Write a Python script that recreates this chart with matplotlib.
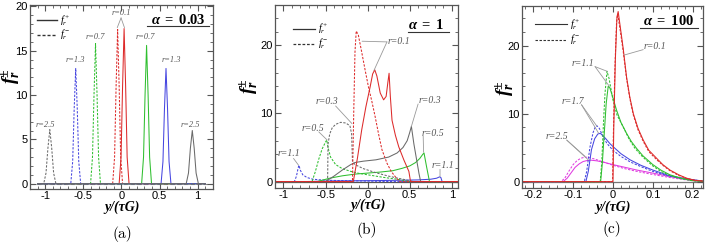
import matplotlib
matplotlib.use("Agg")
import matplotlib.pyplot as plt
from matplotlib.ticker import MultipleLocator, FormatStrFormatter

plt.rcParams['font.family'] = ['Liberation Sans', 'DejaVu Sans']
plt.rcParams['axes.unicode_minus'] = False
plt.rcParams['mathtext.fontset'] = 'custom'
plt.rcParams['mathtext.rm'] = 'Liberation Serif'
plt.rcParams['mathtext.it'] = 'Liberation Serif:italic'
plt.rcParams['mathtext.bf'] = 'Liberation Serif:bold'
plt.rcParams['mathtext.bfit'] = 'Liberation Serif:italic:bold'

RED, GREEN, BLUE, GRAY, MAG = '#dd2a2a', '#2fbf2f', '#4646e0', '#6a6a6a', '#e03ce0'
FRAME = '#555555'

# ---------------- panel (a), alpha = 0.03 ----------------
a_r01_p_x = [-1.1, -0.03, -0.005, 0.015, 0.035, 0.055, 0.075, 0.1, 1.1]
a_r01_p_y = [0, 0, 3, 11, 17.5, 11, 3, 0, 0]
a_r01_m_x = [-1.1, -0.115, -0.09, -0.07, -0.05, -0.03, -0.01, 0.015, 1.1]
a_r01_m_y = [0, 0, 3, 11, 17.4, 11, 3, 0, 0]
a_r07_p_x = [-1.1, 0.265, 0.29, 0.31, 0.33, 0.35, 0.37, 0.395, 1.1]
a_r07_p_y = [0, 0, 3, 10, 15.6, 10, 3, 0, 0]
a_r07_m_x = [-1.1, -0.405, -0.38, -0.36, -0.34, -0.32, -0.3, -0.275, 1.1]
a_r07_m_y = [0, 0, 3, 10, 15.8, 10, 3, 0, 0]
a_r13_p_x = [-1.1, 0.52, 0.545, 0.565, 0.585, 0.605, 0.625, 0.65, 1.1]
a_r13_p_y = [0, 0, 2.5, 8.5, 13.0, 8.5, 2.5, 0, 0]
a_r13_m_x = [-1.1, -0.665, -0.64, -0.62, -0.6, -0.58, -0.56, -0.535, 1.1]
a_r13_m_y = [0, 0, 2.5, 8.5, 13.0, 8.5, 2.5, 0, 0]
a_r25_p_x = [-1.1, 0.85, 0.88, 0.905, 0.93, 0.955, 0.98, 1.01, 1.1]
a_r25_p_y = [0, 0, 1.2, 4.0, 6.0, 4.0, 1.2, 0, 0]
a_r25_m_x = [-1.1, -1.02, -0.99, -0.965, -0.94, -0.915, -0.89, -0.86, 1.1]
a_r25_m_y = [0, 0, 1.2, 4.0, 6.1, 4.0, 1.2, 0, 0]

# ---------------- panel (b), alpha = 1 ----------------
b_r01_p_x = [-1.1, -0.17, -0.12, -0.07, -0.02, 0.03, 0.06, 0.085, 0.11, 0.15, 0.19,
             0.22, 0.24, 0.255, 0.27, 0.29, 0.33, 0.37, 0.43, 0.49, 0.51, 1.1]
b_r01_p_y = [0, 0, 3.5, 7.6, 11, 13.9, 15.8, 16.4, 15.5, 13, 12,
             12.5, 14.5, 15.9, 12.5, 9, 6.8, 5.1, 3.2, 1.5, 0, 0]
b_r01_m_x = [-1.1, -0.18, -0.165, -0.15, -0.135, -0.11, -0.07, -0.03, 0.01, 0.05, 0.09,
             0.13, 0.17, 0.23, 0.28, 0.33, 0.38, 1.1]
b_r01_m_y = [0, 0, 10, 19, 22.1, 21.5, 19, 16.4, 13.9, 11.8, 9.5,
             7, 4.7, 2.7, 1.5, 0.7, 0, 0]
b_r03_p_x = [-1.1, -0.5, -0.4, -0.3, -0.2, -0.15, -0.05, 0.1, 0.25, 0.35, 0.42,
             0.47, 0.5, 0.52, 0.55, 0.585, 0.61, 0.63, 1.1]
b_r03_p_y = [0, 0, 0.8, 1.7, 2.5, 2.8, 3.0, 3.2, 3.6, 4.2, 5.0,
             6.0, 7.2, 8.1, 5.5, 3.0, 1.2, 0, 0]
b_r03_m_x = [-1.1, -0.475, -0.47, -0.45, -0.42, -0.38, -0.32, -0.26, -0.21, -0.19,
             -0.18, -0.15, -0.05, 0.1, 0.25, 0.4, 0.55, 1.1]
b_r03_m_y = [0, 0, 5.5, 7.0, 7.9, 8.4, 8.7, 8.6, 8.2, 7.0,
             3.0, 2.5, 1.9, 1.3, 0.8, 0.4, 0, 0]
b_r05_p_x = [-1.1, -0.6, -0.45, -0.3, -0.15, 0.0, 0.15, 0.3, 0.41, 0.5, 0.57,
             0.62, 0.655, 0.67, 0.7, 0.735, 1.1]
b_r05_p_y = [0, 0, 0.5, 0.85, 1.1, 1.25, 1.4, 1.6, 1.95, 2.3, 2.8,
             3.4, 4.0, 4.2, 2.2, 0, 0]
b_r05_m_x = [-1.1, -0.66, -0.62, -0.58, -0.54, -0.5, -0.485, -0.47, -0.44, -0.38,
             -0.3, -0.2, -0.1, 0.05, 0.2, 0.35, 0.5, 1.1]
b_r05_m_y = [0, 0, 1.5, 3.3, 4.8, 5.8, 6.1, 5.0, 3.6, 2.5,
             1.9, 1.5, 1.2, 0.9, 0.6, 0.35, 0, 0]
b_r11_p_x = [-1.1, -0.75, -0.5, -0.2, 0.1, 0.4, 0.6, 0.75, 0.82, 0.855, 0.87, 0.885, 1.1]
b_r11_p_y = [0, 0, 0.08, 0.12, 0.15, 0.2, 0.25, 0.35, 0.5, 0.7, 0.6, 0, 0]
b_r11_m_x = [-1.1, -0.87, -0.845, -0.825, -0.815, -0.8, -0.77, -0.72, -0.65, -0.5,
             -0.3, -0.1, 0.1, 0.3, 1.1]
b_r11_m_y = [0, 0, 0.8, 2.0, 2.4, 1.7, 1.0, 0.6, 0.35, 0.2,
             0.15, 0.1, 0.05, 0, 0]

# ---------------- panel (c), alpha = 100 ----------------
c_r01_p_x = [-0.23, 0.0, 0.002, 0.006, 0.01, 0.013, 0.02, 0.026, 0.034, 0.042, 0.051,
             0.063, 0.076, 0.09, 0.11, 0.125, 0.143, 0.165, 0.185, 0.205, 0.23]
c_r01_p_y = [0, 0, 8, 18, 24.2, 25.0, 22, 19.4, 15.4, 12.5, 10.0,
             7.8, 6.1, 4.6, 3.4, 2.5, 1.7, 1.0, 0.5, 0.2, 0.05]
c_r01_m_x = [-0.23, -0.001, 0.001, 0.005, 0.009, 0.012, 0.02, 0.026, 0.034, 0.042, 0.051,
             0.063, 0.076, 0.09, 0.11, 0.125, 0.143, 0.165, 0.185, 0.205, 0.23]
c_r01_m_y = [0, 0, 7, 17, 23.5, 24.6, 21.5, 19.0, 15.2, 12.3, 9.8,
             7.6, 5.9, 4.4, 3.2, 2.4, 1.6, 0.9, 0.45, 0.2, 0.05]
c_r11_p_x = [-0.23, -0.031, -0.027, -0.022, -0.017, -0.012, -0.008, 0.0, 0.009, 0.02,
             0.034, 0.046, 0.059, 0.075, 0.1, 0.12, 0.143, 0.17, 0.2, 0.23]
c_r11_p_y = [0, 0, 2.5, 7, 11.5, 14, 13.8, 12.3, 10.5, 8.7,
             7.1, 5.9, 4.9, 3.8, 2.5, 1.7, 1.0, 0.5, 0.15, 0.02]
c_r11_m_x = [-0.23, -0.032, -0.028, -0.024, -0.02, -0.015, -0.01, 0.0, 0.01, 0.026,
             0.04, 0.055, 0.075, 0.1, 0.12, 0.143, 0.17, 0.2, 0.23]
c_r11_m_y = [0, 0, 3, 8.5, 13, 16.2, 15.2, 12, 9.8, 8.0,
             6.3, 4.9, 3.6, 2.3, 1.5, 0.9, 0.45, 0.12, 0.02]
c_r17_p_x = [-0.23, -0.068, -0.062, -0.054, -0.046, -0.038, -0.032, -0.026, -0.018,
             -0.008, 0.001, 0.02, 0.043, 0.07, 0.1, 0.14, 0.185, 0.23]
c_r17_p_y = [0, 0, 1.5, 4.7, 6.3, 7.0, 7.1, 6.8, 6.3,
             5.6, 5.1, 4.1, 3.2, 2.4, 1.7, 0.9, 0.4, 0.05]
c_r17_m_x = [-0.23, -0.072, -0.066, -0.058, -0.05, -0.044, -0.04, -0.034, -0.025,
             -0.015, 0.0, 0.02, 0.043, 0.07, 0.1, 0.14, 0.185, 0.23]
c_r17_m_y = [0, 0, 1.5, 5, 7.2, 8.1, 8.2, 7.8, 6.6,
             5.6, 4.6, 3.7, 2.9, 2.2, 1.5, 0.8, 0.35, 0.05]
c_r25_p_x = [-0.23, -0.125, -0.115, -0.105, -0.095, -0.085, -0.075, -0.065, -0.055,
             -0.04, -0.02, 0.0, 0.03, 0.06, 0.1, 0.143, 0.18, 0.21, 0.23]
c_r25_p_y = [0, 0, 0.5, 1.3, 2.1, 2.6, 2.95, 3.1, 3.15,
             3.05, 2.8, 2.5, 2.1, 1.7, 1.25, 0.75, 0.35, 0.1, 0.02]
c_r25_m_x = [-0.23, -0.13, -0.12, -0.11, -0.1, -0.09, -0.08, -0.07, -0.06,
             -0.045, -0.025, 0.0, 0.03, 0.06, 0.1, 0.143, 0.18, 0.21, 0.23]
c_r25_m_y = [0, 0, 0.6, 1.6, 2.5, 3.1, 3.45, 3.6, 3.55,
             3.3, 2.9, 2.4, 1.9, 1.5, 1.05, 0.6, 0.28, 0.08, 0.02]

DASH = (0, (2.2, 1.4))
LW = 0.75

fig = plt.figure(figsize=(7.06, 2.43), dpi=100)
axa = fig.add_axes([0.0425, 0.224, 0.259, 0.757])
axb = fig.add_axes([0.3895, 0.226, 0.2588, 0.753])
axc = fig.add_axes([0.739, 0.226, 0.2568, 0.749])


def style(ax, xlim, ylim, xmaj, xmin, ymaj, ymin):
    ax.set_xlim(*xlim)
    ax.set_ylim(*ylim)
    ax.xaxis.set_major_locator(MultipleLocator(xmaj))
    ax.xaxis.set_minor_locator(MultipleLocator(xmin))
    ax.yaxis.set_major_locator(MultipleLocator(ymaj))
    ax.yaxis.set_minor_locator(MultipleLocator(ymin))
    ax.xaxis.set_major_formatter(FormatStrFormatter('%g'))
    ax.tick_params(which='both', direction='in', top=True, right=True, color=FRAME,
                   labelsize=8, pad=1.5)
    ax.tick_params(which='major', length=4, width=0.8)
    ax.tick_params(which='minor', length=2, width=0.6)
    for s in ax.spines.values():
        s.set_color(FRAME)
        s.set_linewidth(0.9)


def legend(ax, x0, x1, x2, y0, y1, lw):
    ax.plot([x0, x1], [y0, y0], color='#333333', lw=lw, transform=ax.transAxes)
    ax.plot([x0, x1], [y1, y1], color='#333333', lw=lw, ls=DASH, transform=ax.transAxes)
    ax.text(x2, y0, r'$f_r^+$', transform=ax.transAxes, fontsize=7.5, va='center')
    ax.text(x2, y1, r'$f_r^-$', transform=ax.transAxes, fontsize=7.5, va='center')


def title(ax, txt, x, y, ux0, ux1, uy):
    ax.text(x, y, txt, transform=ax.transAxes, fontsize=10.5, ha='center', va='center')
    ax.plot([ux0, ux1], [uy, uy], color='#333333', lw=0.8, transform=ax.transAxes)


def labels(ax, tag, xl, yl, xp):
    ax.text(xl[0], xl[1], 'y/(τG)', transform=ax.transAxes, ha='center', va='center',
            fontsize=10, family='Liberation Serif', style='italic', weight='bold')
    ax.text(yl[0], yl[1], r'$\mathbfit{f}_{\mathbfit{r}}^{\mathbf{\pm}}$',
            transform=ax.transAxes, ha='center', va='center', fontsize=14, rotation=90)
    ax.text(xp[0], xp[1], tag, transform=ax.transAxes, ha='center', va='center',
            fontsize=11, family='cmr10')


def note(ax, txt, xy, fs, targets=(), start=None):
    ax.text(xy[0], xy[1], txt, fontsize=fs, style='italic', family='Liberation Serif',
            color='#555555', ha='center', va='center')
    for t in targets:
        ax.annotate('', xy=t, xytext=start,
                    arrowprops=dict(arrowstyle='-', color='#999999', lw=0.6,
                                    shrinkA=0, shrinkB=0))


# ---- (a)
ax = axa
ax.axhline(0, color='#888888', lw=0.8, ls=(0, (4, 2)), zorder=1)
for (xp, yp, xm, ym, c) in [(a_r01_p_x, a_r01_p_y, a_r01_m_x, a_r01_m_y, RED),
                            (a_r07_p_x, a_r07_p_y, a_r07_m_x, a_r07_m_y, GREEN),
                            (a_r13_p_x, a_r13_p_y, a_r13_m_x, a_r13_m_y, BLUE),
                            (a_r25_p_x, a_r25_p_y, a_r25_m_x, a_r25_m_y, GRAY)]:
    ax.plot(xp, yp, color=c, lw=LW)
    ax.plot(xm, ym, color=c, lw=LW, ls=DASH)
style(ax, (-1.2, 1.2), (-0.55, 20.2), 0.5, 0.1, 5, 1)
legend(ax, 0.04, 0.15, 0.165, 0.915, 0.835, 1.0)
title(ax, r'$\mathbfit{\alpha}\ \mathbf{=\ 0.03}$', 0.81, 0.918, 0.64, 0.98, 0.885)
labels(ax, '(a)', (0.504, -0.1), (-0.1, 0.61), (0.504, -0.245))
note(ax, 'r=0.1', (0.0, 19.3), 6, [(-0.055, 17.6), (0.04, 17.6)], (-0.005, 18.7))
note(ax, 'r=0.7', (-0.34, 16.6), 6)
note(ax, 'r=0.7', (0.32, 16.6), 6)
note(ax, 'r=1.3', (-0.61, 13.9), 6)
note(ax, 'r=1.3', (0.66, 13.9), 6)
note(ax, 'r=2.5', (-1.0, 6.6), 6)
note(ax, 'r=2.5', (0.9, 6.6), 6)

# ---- (b)
ax = axb
ax.axhline(0, color='#555555', lw=0.9, zorder=1)
for (xp, yp, xm, ym, c) in [(b_r11_p_x, b_r11_p_y, b_r11_m_x, b_r11_m_y, BLUE),
                            (b_r05_p_x, b_r05_p_y, b_r05_m_x, b_r05_m_y, GREEN),
                            (b_r03_p_x, b_r03_p_y, b_r03_m_x, b_r03_m_y, GRAY),
                            (b_r01_p_x, b_r01_p_y, b_r01_m_x, b_r01_m_y, RED)]:
    ax.plot(xp, yp, color=c, lw=LW)
    ax.plot(xm, ym, color=c, lw=LW, ls=DASH)
style(ax, (-1.1, 1.07), (-0.95, 25.9), 0.5, 0.1, 10, 2)
legend(ax, 0.1, 0.22, 0.235, 0.87, 0.79, 0.9)
title(ax, r'$\mathbfit{\alpha}\ \mathbf{=\ 1}$', 0.825, 0.89, 0.73, 0.95, 0.855)
labels(ax, '(b)', (0.51, -0.095), (-0.14, 0.557), (0.504, -0.23))
note(ax, 'r=0.1', (0.37, 20.5), 7, [(-0.066, 20.6), (0.075, 16.3)], (0.23, 20.5))
note(ax, 'r=0.3', (0.74, 11.9), 7, [(0.52, 8.1)], (0.6, 11.4))
note(ax, 'r=0.3', (-0.48, 11.7), 7, [(-0.185, 8.5)], (-0.38, 11.1))
note(ax, 'r=0.5', (0.78, 7.1), 7, [(0.665, 4.3)], (0.66, 6.7))
note(ax, 'r=0.5', (-0.65, 7.8), 7, [(-0.48, 6.1)], (-0.58, 7.3))
note(ax, 'r=1.1', (0.9, 2.4), 7, [(0.86, 0.75)], (0.86, 1.8))
note(ax, 'r=1.1', (-0.94, 4.15), 7, [(-0.82, 2.4)], (-0.88, 3.4))

# ---- (c)
ax = axc
ax.axhline(0, color='#777777', lw=0.9, zorder=1)
for (xp, yp, xm, ym, c) in [(c_r25_p_x, c_r25_p_y, c_r25_m_x, c_r25_m_y, MAG),
                            (c_r17_p_x, c_r17_p_y, c_r17_m_x, c_r17_m_y, BLUE),
                            (c_r11_p_x, c_r11_p_y, c_r11_m_x, c_r11_m_y, GREEN),
                            (c_r01_p_x, c_r01_p_y, c_r01_m_x, c_r01_m_y, RED)]:
    ax.plot(xp, yp, color=c, lw=LW)
    ax.plot(xm, ym, color=c, lw=LW, ls=DASH)
style(ax, (-0.229, 0.226), (-0.95, 25.8), 0.1, 0.02, 10, 2)
legend(ax, 0.073, 0.25, 0.266, 0.9, 0.813, 0.8)
title(ax, r'$\mathbfit{\alpha}\ \mathbf{=\ 100}$', 0.81, 0.92, 0.65, 0.97, 0.877)
labels(ax, '(c)', (0.504, -0.105), (-0.09, 0.55), (0.495, -0.225))
note(ax, 'r=0.1', (0.105, 19.9), 7, [(0.028, 18.6)], (0.076, 19.4))
note(ax, 'r=1.1', (-0.076, 17.4), 7, [(-0.014, 16.2), (-0.009, 14.0)], (-0.045, 16.9))
note(ax, 'r=1.7', (-0.1, 11.8), 7, [(-0.041, 8.2), (-0.036, 7.1)], (-0.079, 11.3))
note(ax, 'r=2.5', (-0.14, 6.6), 7, [(-0.07, 3.7), (-0.062, 3.2)], (-0.116, 6.1))

fig.savefig('out.png', dpi=100)
